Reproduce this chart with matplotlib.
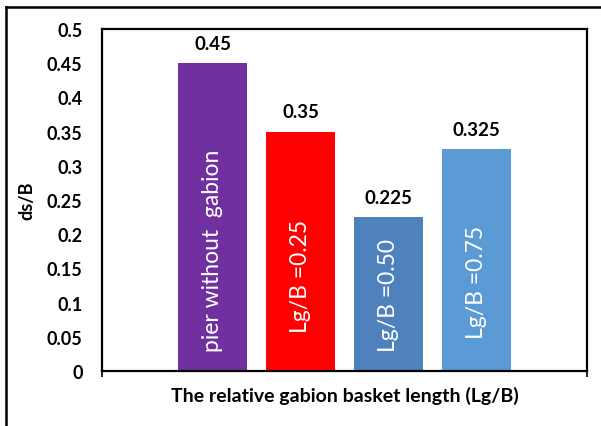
import matplotlib
matplotlib.use("Agg")
import matplotlib.pyplot as plt
from matplotlib.lines import Line2D

categories = ["pier without  gabion", "Lg/B =0.25", "Lg/B =0.50", "Lg/B =0.75"]
values = [0.45, 0.35, 0.225, 0.325]
value_labels = ["0.45", "0.35", "0.225", "0.325"]
colors = ["#7030A0", "#FF0000", "#4F81BD", "#5B9BD5"]
yticks = [0, 0.05, 0.1, 0.15, 0.2, 0.25, 0.3, 0.35, 0.4, 0.45, 0.5]
ytick_labels = ["0", "0.05", "0.1", "0.15", "0.2", "0.25", "0.3", "0.35", "0.4", "0.45", "0.5"]
inner_label_y = [0.177, 0.139, 0.1125, 0.1316]

plt.rcParams['font.family'] = ['Lato', 'DejaVu Sans']

W, H = 601, 427
fig = plt.figure(figsize=(W / 100, H / 100), dpi=100)
ax = fig.add_axes([102 / W, 1 - 372 / H, (587 - 102) / W, (372 - 30) / H])

x = list(range(len(values)))
ax.bar(x, values, width=0.784, color=colors, zorder=2)
ax.set_xlim(-1.256, 3 + 1.256)
ax.set_ylim(0, 0.5)

for xi, v, lab in zip(x, values, value_labels):
    ax.annotate(lab, (xi, v), xytext=(0, 8), textcoords="offset points",
                ha="center", va="bottom", fontsize=13.5, fontweight="bold")
for xi, yc, lab in zip(x, inner_label_y, categories):
    ax.text(xi, yc, lab, rotation=90, ha="center", va="center",
            color="white", fontsize=16.5, fontweight="normal")

ax.set_yticks(yticks)
ax.set_yticklabels(ytick_labels, fontsize=13, fontweight="bold")
ax.tick_params(axis="y", length=0, pad=14)
ax.set_xticks([-1.256, 4.256])
ax.set_xticklabels(["", ""])
ax.tick_params(axis="x", length=4, width=1.2, direction="out")
for s in ax.spines.values():
    s.set_linewidth(1.6)
    s.set_color("black")

ax.set_ylabel("ds/B", fontsize=13, fontweight="bold")
ax.yaxis.set_label_coords(-0.138, 0.5)
ax.set_xlabel("The relative gabion basket length (Lg/B)", fontsize=14,
              fontweight="bold", labelpad=3)

# outer border
fig.add_artist(Line2D([6 / W, 6 / W], [0, 1 - 8 / H], color="black", lw=1.8,
                      transform=fig.transFigure))
fig.add_artist(Line2D([6 / W, 1], [1 - 8 / H, 1 - 8 / H], color="black", lw=1.8,
                      transform=fig.transFigure))

fig.savefig("out.png", dpi=100)
